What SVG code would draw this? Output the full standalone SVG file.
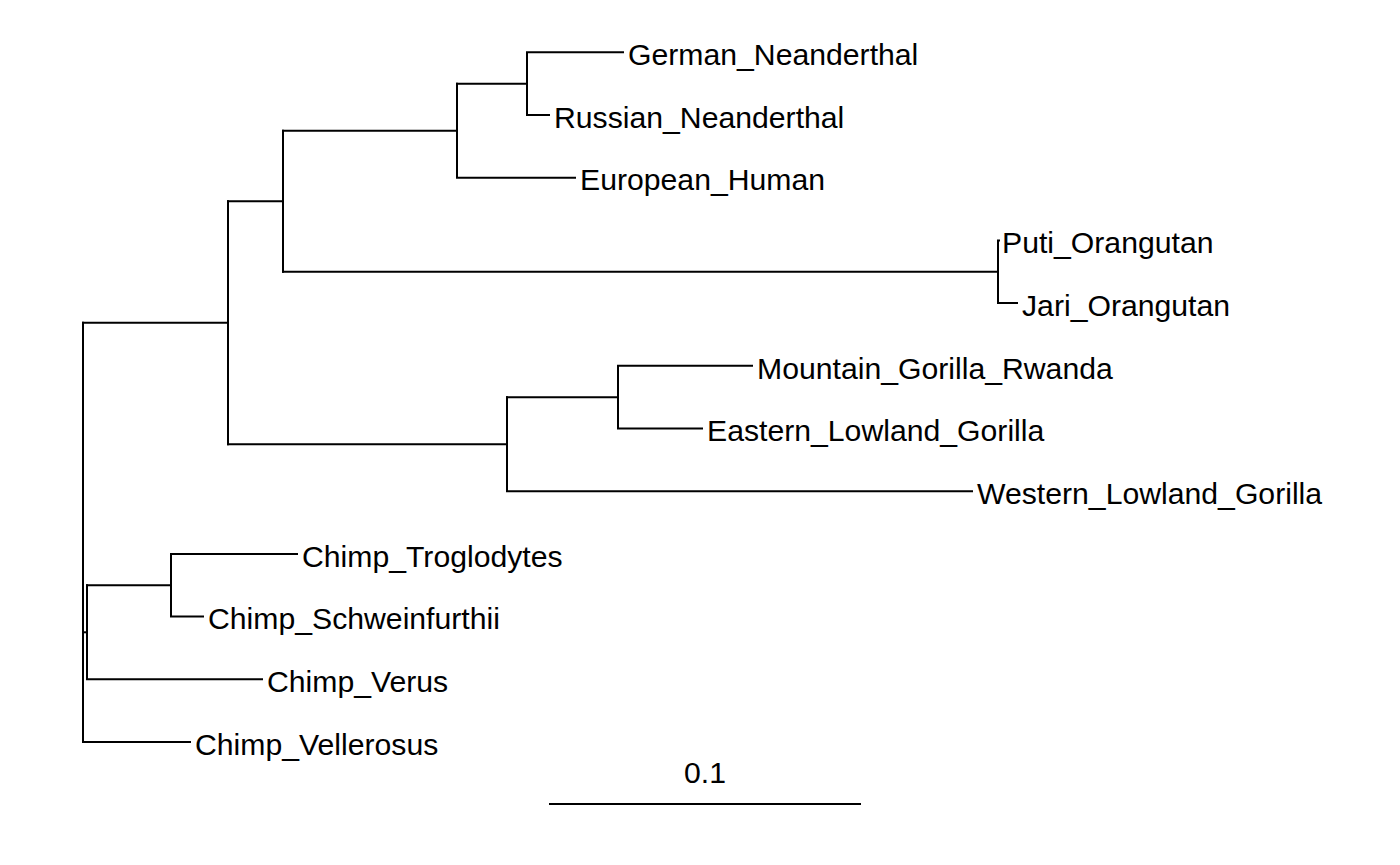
<svg xmlns="http://www.w3.org/2000/svg" width="1400" height="865" viewBox="0 0 1400 865">
<style>
.br{stroke:#000;stroke-width:2;fill:none;stroke-linecap:square}
.lb{font-family:"Liberation Sans",Arial,sans-serif;font-size:30.2px;fill:#000}
</style>
<rect width="1400" height="865" fill="#fff"/>
<g id="connectors" class="br">
<path d="M83,322.7 V742 H190"/>
<path d="M83,632.3 H87"/>
<path d="M83,322.7 H228 M228,201.2 V444.2"/>
<path d="M228,201.2 H283 V130.7 M283,201.2 V271.75"/>
<path d="M283,130.7 H457 M457,83.65 V177.7 H575"/>
<path d="M457,83.65 H527 M527,52.3 V115 M527,52.3 H623 M527,115 H549"/>
<path d="M283,271.75 H998 M998,240.4 V303.1 M998,240.4 H999 M998,303.1 H1017"/>
<path d="M228,444.2 H507 M507,397.15 V491.2 H972"/>
<path d="M507,397.15 H618 M618,365.8 V428.5 M618,365.8 H752 M618,428.5 H702"/>
<path d="M87,585.25 V679.3 H262"/>
<path d="M87,585.25 H171 M171,553.9 V616.6 M171,553.9 H297 M171,616.6 H203"/>
<path d="M550,804 H860"/>
</g>
<g id="German_Neanderthal"><text class="lb" x="628" y="65">German_Neanderthal</text></g>
<g id="Russian_Neanderthal"><text class="lb" x="554" y="127.7">Russian_Neanderthal</text></g>
<g id="European_Human"><text class="lb" x="580" y="190.4">European_Human</text></g>
<g id="Puti_Orangutan"><text class="lb" x="1002" y="253.1">Puti_Orangutan</text></g>
<g id="Jari_Orangutan"><text class="lb" x="1022" y="315.8">Jari_Orangutan</text></g>
<g id="Mountain_Gorilla_Rwanda"><text class="lb" x="757" y="378.5">Mountain_Gorilla_Rwanda</text></g>
<g id="Eastern_Lowland_Gorilla"><text class="lb" x="707" y="441.2">Eastern_Lowland_Gorilla</text></g>
<g id="Western_Lowland_Gorilla"><text class="lb" x="977" y="503.9">Western_Lowland_Gorilla</text></g>
<g id="Chimp_Troglodytes"><text class="lb" x="302" y="566.6">Chimp_Troglodytes</text></g>
<g id="Chimp_Schweinfurthii"><text class="lb" x="208" y="629.3">Chimp_Schweinfurthii</text></g>
<g id="Chimp_Verus"><text class="lb" x="267" y="692">Chimp_Verus</text></g>
<g id="Chimp_Vellerosus"><text class="lb" x="195" y="754.7">Chimp_Vellerosus</text></g>
<g id="scale"><text class="lb" x="705" y="783" text-anchor="middle">0.1</text></g>
</svg>
